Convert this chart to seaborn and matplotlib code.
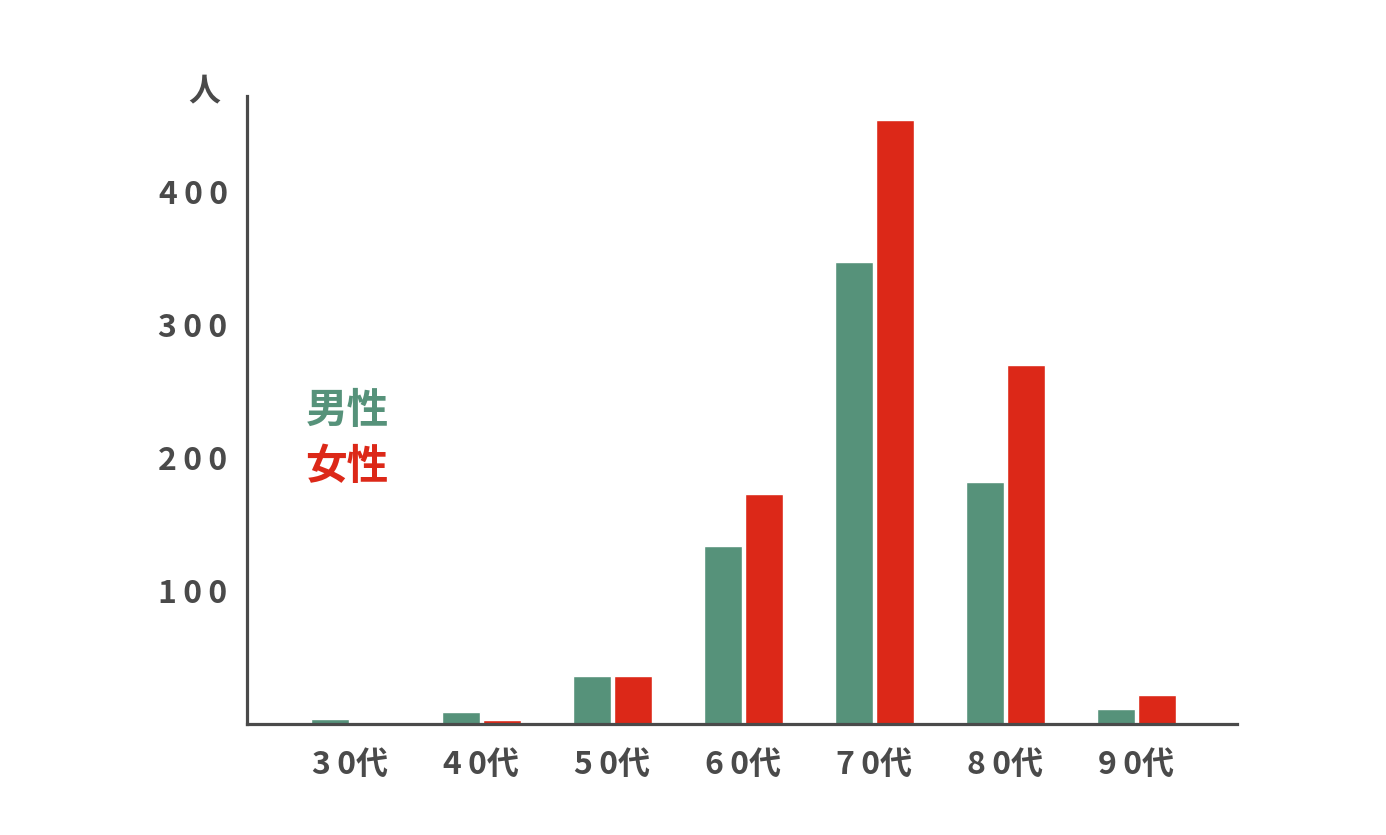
import matplotlib
matplotlib.use("Agg")
import matplotlib.pyplot as plt
import seaborn as sns
import pandas as pd

# data
ages = ["30代", "40代", "50代", "60代", "70代", "80代", "90代"]
male = [4, 9, 36, 134, 347, 182, 11]
female = [0, 3, 36, 173, 454, 270, 22]
tick_labels = ["3\u20090代", "4\u20090代", "5\u20090代", "6\u20090代", "7\u20090代", "8\u20090代", "9\u20090代"]
y_ticks = [100, 200, 300, 400]

green = "#56927a"
red = "#dc2818"
dark = "#4a4a4a"

df = pd.DataFrame({
    "age": ages * 2,
    "sex": ["男性"] * len(ages) + ["女性"] * len(ages),
    "count": male + female,
})

sns.set_style("white")
plt.rcParams["font.family"] = ["Noto Sans CJK JP", "DejaVu Sans"]

fig = plt.figure(figsize=(13.86, 8.35), dpi=100)
ax = fig.add_axes([0.1782, 0.1329, 0.7143, 0.752])

sns.barplot(data=df, x="age", y="count", hue="sex", order=ages,
            hue_order=["男性", "女性"], palette={"男性": green, "女性": red},
            width=0.63, gap=0.08, saturation=1, legend=False, ax=ax)

ax.set_xlim(-0.79, 6.77)
ax.set_ylim(0, 472)
ax.set_yticks(y_ticks)
ax.set_yticklabels(["\u2009".join(str(v)) for v in y_ticks])
ax.set_xticks(range(len(ages)))
ax.set_xticklabels(tick_labels)
ax.tick_params(axis="both", length=0, labelsize=23, labelcolor=dark)
ax.tick_params(axis="y", pad=14)
ax.tick_params(axis="x", pad=18)
for lab in ax.get_xticklabels() + ax.get_yticklabels():
    lab.set_fontweight("bold")
ax.set_xlabel("")
ax.set_ylabel("")

for side in ["top", "right"]:
    ax.spines[side].set_visible(False)
for side in ["left", "bottom"]:
    ax.spines[side].set_color(dark)
    ax.spines[side].set_linewidth(2.3)

# unit label above the y axis
ax.text(-0.043, 1.007, "人", transform=ax.transAxes, ha="center", va="center",
        fontsize=23, color=dark, fontweight="bold")

# legend written as colored text
ax.text(0.101, 0.498, "男性", transform=ax.transAxes, ha="center", va="center",
        fontsize=30, color=green, fontweight="bold")
ax.text(0.101, 0.409, "女性", transform=ax.transAxes, ha="center", va="center",
        fontsize=30, color=red, fontweight="bold")

fig.savefig("out.png", dpi=100)
